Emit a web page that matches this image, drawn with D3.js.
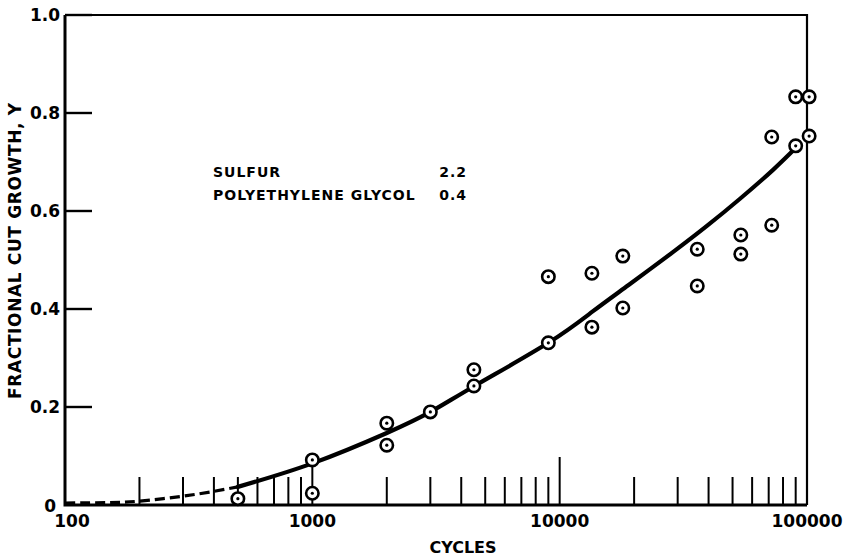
<!DOCTYPE html>
<html lang="en">
<head>
<meta charset="UTF-8">
<title>Fractional cut growth</title>
<script src="https://d3js.org/d3.v7.min.js"></script>
<style>
  body { margin: 0; background: #fff; }
  svg { display: block; }
  text { font-family: "DejaVu Sans", sans-serif; font-weight: bold; fill: #000; }
</style>
</head>
<body>
<script>
// measured points (cycles, fractional cut growth)
const obsCycles = [500, 1000, 1000, 2000, 2000, 3000, 4500, 4500, 9000, 9000,
  13500, 13500, 18000, 18000, 36000, 36000, 54000, 54000, 72000, 72000,
  90000, 90000, 102000, 102000];
const obsY = [0.013, 0.092, 0.024, 0.167, 0.122, 0.19, 0.276, 0.243, 0.331, 0.466,
  0.473, 0.363, 0.508, 0.402, 0.522, 0.447, 0.551, 0.512, 0.751, 0.571,
  0.733, 0.833, 0.753, 0.833];

// fitted curve, solid part
const fitCycles = [500, 1000, 2000, 3000, 4600, 9000, 13600, 19000, 28700, 39500, 53600, 72900, 91000];
const fitY = [0.037, 0.085, 0.147, 0.19, 0.245, 0.331, 0.395, 0.449, 0.516, 0.57, 0.625, 0.684, 0.731];

// extrapolated (dashed) part
const dashCycles = [100, 150, 200, 300, 400, 500];
const dashY = [0.004, 0.005, 0.008, 0.018, 0.028, 0.037];

const xTickLabels = [100, 1000, 10000, 100000];
const yTickValues = [0.2, 0.4, 0.6, 0.8, 1.0];
const yTickLabels = ["0.2", "0.4", "0.6", "0.8", "1.0"];

const noteRows = [["SULFUR", "2.2"], ["POLYETHYLENE GLYCOL", "0.4"]];

const W = 843, H = 557;
const m = { left: 65, right: 807, top: 15, bottom: 505 };

const svg = d3.select("body").append("svg")
  .attr("width", W).attr("height", H);

const x = d3.scaleLog().domain([100, 100000]).range([m.left, m.right]);
const y = d3.scaleLinear().domain([0, 1]).range([m.bottom, m.top]);

// frame
svg.append("path")
  .attr("d", `M${m.left},${m.top}H${m.right}V${m.bottom}`)
  .attr("fill", "none").attr("stroke", "#000").attr("stroke-width", 2.2);
svg.append("path")
  .attr("d", `M${m.left},${m.top}V${m.bottom}H${m.right}`)
  .attr("fill", "none").attr("stroke", "#000").attr("stroke-width", 3);

// y ticks pointing inward
svg.selectAll(".ytick").data(yTickValues).enter().append("line")
  .attr("x1", m.left).attr("x2", m.left + 27)
  .attr("y1", d => y(d)).attr("y2", d => y(d))
  .attr("stroke", "#000").attr("stroke-width", 2.4);

svg.selectAll(".ylab").data(yTickValues).enter().append("text")
  .attr("x", m.left - 5).attr("y", d => y(d))
  .attr("dy", "0.36em").attr("text-anchor", "end")
  .style("font-size", "17px")
  .text((d, i) => yTickLabels[i]);
svg.append("text")
  .attr("x", m.left - 9).attr("y", y(0) + 1)
  .attr("dy", "0.36em").attr("text-anchor", "end")
  .style("font-size", "17px").text("0");

// x ticks: vertical lines standing on the bottom axis
const minor = x.ticks().filter(d => !xTickLabels.includes(d));
svg.selectAll(".xminor").data(minor).enter().append("line")
  .attr("x1", d => x(d)).attr("x2", d => x(d))
  .attr("y1", m.bottom).attr("y2", m.bottom - 28)
  .attr("stroke", "#000").attr("stroke-width", 2);
svg.selectAll(".xmajor").data(xTickLabels.slice(1, 3)).enter().append("line")
  .attr("x1", d => x(d)).attr("x2", d => x(d))
  .attr("y1", m.bottom).attr("y2", m.bottom - 48)
  .attr("stroke", "#000").attr("stroke-width", 2);

svg.selectAll(".xlab").data(xTickLabels).enter().append("text")
  .attr("x", (d, i) => x(d) + (i === 0 ? 7 : 0))
  .attr("y", 527)
  .attr("text-anchor", "middle")
  .style("font-size", "17px")
  .text(d => d);

// axis titles
svg.append("text")
  .attr("x", 463).attr("y", 553)
  .attr("text-anchor", "middle")
  .style("font-size", "16px")
  .text("CYCLES");

svg.append("text")
  .attr("transform", "translate(21,251) rotate(-90)")
  .attr("text-anchor", "middle")
  .style("font-size", "17px")
  .attr("textLength", 296).attr("lengthAdjust", "spacing")
  .text("FRACTIONAL  CUT  GROWTH,  Y");

// note
noteRows.forEach((r, i) => {
  svg.append("text").attr("x", 213).attr("y", 177 + i * 23)
    .style("font-size", "14px").style("letter-spacing", "1px").text(r[0]);
  svg.append("text").attr("x", 467).attr("y", 177 + i * 23)
    .attr("text-anchor", "end")
    .style("font-size", "14px").style("letter-spacing", "1px").text(r[1]);
});

// curve
const line = d3.line()
  .x(d => x(d[0])).y(d => y(d[1]))
  .curve(d3.curveNatural);

svg.append("path")
  .datum(dashCycles.map((c, i) => [c, dashY[i]]))
  .attr("d", line)
  .attr("fill", "none").attr("stroke", "#000")
  .attr("stroke-width", 3.2).attr("stroke-dasharray", "10,5");

svg.append("path")
  .datum(fitCycles.map((c, i) => [c, fitY[i]]))
  .attr("d", line)
  .attr("fill", "none").attr("stroke", "#000")
  .attr("stroke-width", 4.2).attr("stroke-linecap", "round");

// markers: ring with centre dot
const pts = svg.selectAll(".pt")
  .data(obsCycles.map((c, i) => [c, obsY[i]]))
  .enter().append("g")
  .attr("transform", d => `translate(${x(d[0])},${y(d[1])})`);
pts.append("circle").attr("r", 6.2)
  .attr("fill", "#fff").attr("stroke", "#000").attr("stroke-width", 2.6);
pts.append("circle").attr("r", 1.6).attr("fill", "#000");
</script>
</body>
</html>
